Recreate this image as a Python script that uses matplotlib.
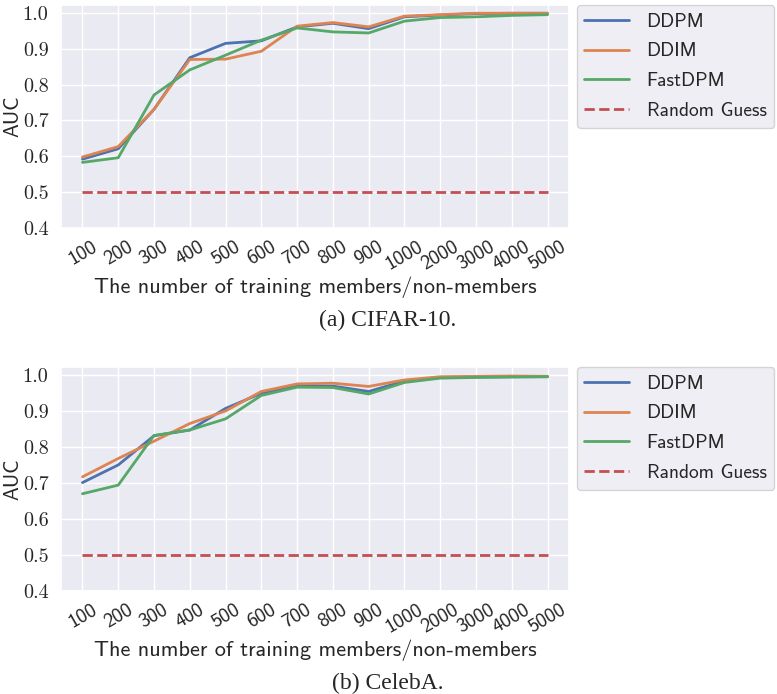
import matplotlib
matplotlib.use('Agg')

import matplotlib.pyplot as plt
import seaborn as sns

sns.set_theme(style='darkgrid')

sizes = ['100', '200', '300', '400', '500', '600', '700', '800', '900',
         '1000', '2000', '3000', '4000', '5000']

# CIFAR-10
cifar_ddpm = [0.592, 0.621, 0.731, 0.875, 0.915, 0.922, 0.961, 0.971, 0.956,
              0.989, 0.994, 0.998, 0.999, 0.999]
cifar_ddim = [0.598, 0.627, 0.731, 0.870, 0.871, 0.893, 0.963, 0.973, 0.961,
              0.991, 0.995, 0.999, 0.999, 0.999]
cifar_fast = [0.583, 0.596, 0.771, 0.841, 0.882, 0.924, 0.958, 0.947, 0.944,
              0.977, 0.987, 0.989, 0.993, 0.995]

# CelebA
celeba_ddpm = [0.701, 0.750, 0.831, 0.847, 0.907, 0.949, 0.969, 0.969, 0.954,
               0.983, 0.993, 0.994, 0.995, 0.995]
celeba_ddim = [0.717, 0.768, 0.816, 0.865, 0.900, 0.954, 0.975, 0.977, 0.968,
               0.986, 0.995, 0.996, 0.997, 0.996]
celeba_fast = [0.670, 0.694, 0.832, 0.847, 0.878, 0.943, 0.966, 0.965, 0.947,
               0.979, 0.991, 0.993, 0.994, 0.995]

random_guess = 0.5

colors = sns.color_palette('deep')

fig = plt.figure(figsize=(7.77, 6.94), dpi=100)


def draw_panel(ax, ddpm, ddim, fast):
    x = list(range(len(sizes)))
    ax.plot(x, ddpm, color=colors[0], lw=2, label='DDPM')
    ax.plot(x, ddim, color=colors[1], lw=2, label='DDIM')
    ax.plot(x, fast, color=colors[2], lw=2, label='FastDPM')
    ax.plot(x, [random_guess] * len(x), color=colors[3], lw=2, ls='--',
            label='Random Guess')
    ax.set_xlim(-0.6, len(sizes) - 1 + 0.6)
    ax.set_ylim(0.4, 1.022)
    ax.set_yticks([0.4, 0.5, 0.6, 0.7, 0.8, 0.9, 1.0])
    ax.set_yticklabels(['0.4', '0.5', '0.6', '0.7', '0.8', '0.9', '1.0'],
                       fontfamily='cmr10', fontsize=14.5)
    ax.set_xticks(x)
    ax.set_xticklabels(sizes, rotation=30, fontfamily='cmss10', fontsize=14.5)
    ax.tick_params(axis='x', pad=1)
    ax.tick_params(axis='y', pad=3)
    ax.set_ylabel('AUC', fontfamily='cmss10', fontsize=15, labelpad=0)
    ax.set_xlabel('The number of training members/non-members',
                  fontfamily='cmss10', fontsize=16, labelpad=2)
    ax.legend(loc='upper left', bbox_to_anchor=(1.015, 1.0), borderaxespad=0,
              prop={'family': 'cmss10', 'size': 14}, handlelength=2.3,
              labelspacing=0.6, handletextpad=0.9)


ax1 = fig.add_axes([61 / 777, 1 - 228 / 694, 508 / 777, 223 / 694])
ax2 = fig.add_axes([61 / 777, 1 - 591 / 694, 508 / 777, 224 / 694])

draw_panel(ax1, cifar_ddpm, cifar_ddim, cifar_fast)
draw_panel(ax2, celeba_ddpm, celeba_ddim, celeba_fast)

fig.text(388 / 777, 1 - 320 / 694, '(a) CIFAR-10.', ha='center', va='center',
         fontfamily='Liberation Serif', fontsize=17)
fig.text(388 / 777, 1 - 683 / 694, '(b) CelebA.', ha='center', va='center',
         fontfamily='Liberation Serif', fontsize=17)

fig.savefig('out.png', dpi=100)
